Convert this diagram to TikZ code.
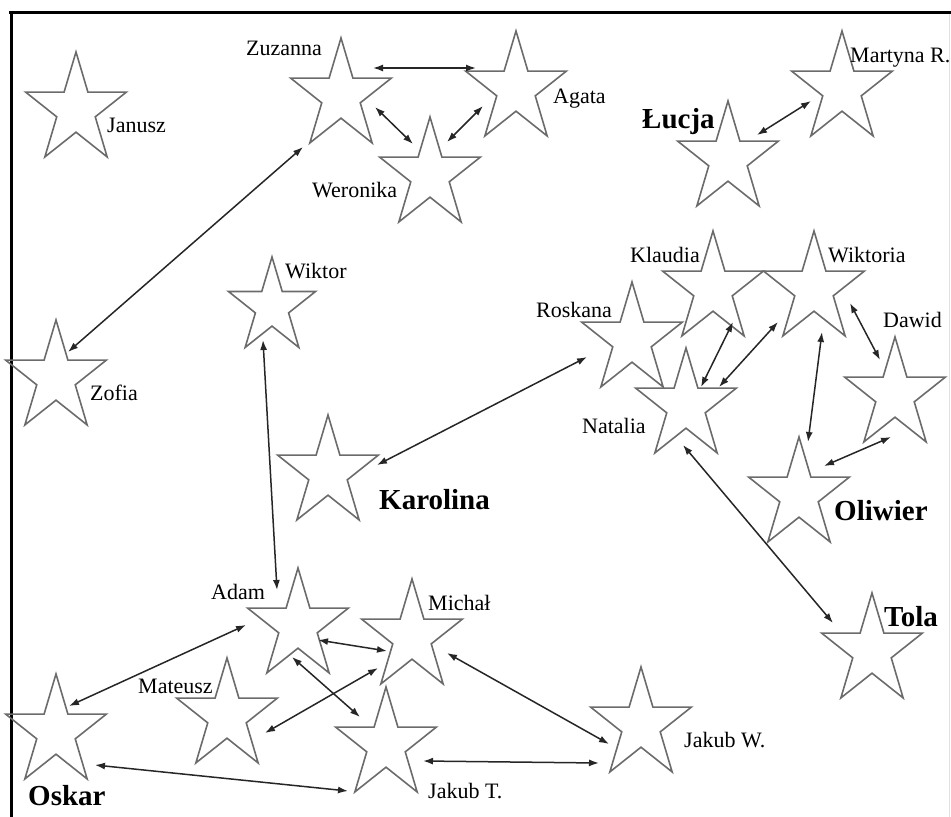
\documentclass[tikz,border=0pt]{standalone}
\usepackage{fontspec}
\setmainfont{Liberation Serif}
\usetikzlibrary{shapes.geometric,arrows.meta}
\tikzset{
  starbox/.style={star, star points=5, star point ratio=2.618, draw=black!58, line width=1.6pt,
    inner sep=0pt, outer sep=0pt, minimum size=106pt, yscale=1.095},
  smallstar/.style={starbox, minimum size=91.4pt},
  lbl/.style={anchor=base west, inner sep=0pt, font=\fontsize{22}{24}\selectfont},
  blbl/.style={anchor=base west, inner sep=0pt, font=\fontsize{29}{31}\selectfont\bfseries},
  link/.style={{Latex[length=10pt,width=7pt]}-{Latex[length=10pt,width=7pt]}, line width=1.5pt, black!85},
}
\begin{document}
\begin{tikzpicture}[x=1pt,y=-1pt]
\useasboundingbox (0,0) rectangle (951,817);
% frame
\draw[line width=3pt] (9,12) -- (951,12);
\draw[line width=3pt] (11,10.5) -- (11,817);
\draw[black!12, line width=1pt] (949,14) -- (949,817);
% stars
\node[starbox] (jan) at (76,110) {};
\node[starbox] (zuz) at (341,96) {};
\node[starbox] (aga) at (516,89) {};
\node[starbox] (wer) at (430,175) {};
\node[starbox] (luc) at (728,159) {};
\node[starbox] (mar) at (842,89) {};
\node[smallstar] (wkt) at (272,307) {};
\node[starbox] (zof) at (56,378) {};
\node[starbox] (kar) at (328,473) {};
\node[starbox] (kla) at (713,289) {};
\node[starbox] (wik) at (814,289) {};
\node[starbox] (ros) at (632,340) {};
\node[starbox] (nat) at (686,406) {};
\node[starbox] (daw) at (895,395) {};
\node[starbox] (oli) at (799,495) {};
\node[starbox] (ada) at (298,626) {};
\node[starbox] (mic) at (412,637) {};
\node[starbox] (mat) at (227,716) {};
\node[starbox] (osk) at (56,732) {};
\node[starbox] (jkt) at (386,745) {};
\node[starbox] (jkw) at (641,725) {};
\node[starbox] (tol) at (872,651) {};
% labels
\node[lbl] (ljan) at (107,132) {Janusz};
\node[lbl] (lzuz) at (246,55) {Zuzanna};
\node[lbl] (laga) at (553,103) {Agata};
\node[lbl] (lwer) at (312,197) {Weronika};
\node[blbl] (lluc) at (642,128) {Łucja};
\node[lbl] (lmar) at (850,62) {Martyna R.};
\node[lbl] (lwkt) at (285,278) {Wiktor};
\node[lbl] (lzof) at (90,400) {Zofia};
\node[blbl] (lkar) at (379,509) {Karolina};
\node[lbl] (lkla) at (630,262) {Klaudia};
\node[lbl] (lwik) at (828,262) {Wiktoria};
\node[lbl] (lros) at (536,317) {Roskana};
\node[lbl] (lnat) at (582,433) {Natalia};
\node[lbl] (ldaw) at (883,327) {Dawid};
\node[blbl] (loli) at (834,520) {Oliwier};
\node[lbl] (lada) at (211,599) {Adam};
\node[lbl] (lmic) at (428,610) {Michał};
\node[lbl] (lmat) at (138,693) {Mateusz};
\node[blbl] (losk) at (28,805) {Oskar};
\node[lbl] (ljkt) at (428,798) {Jakub T.};
\node[lbl] (ljkw) at (684,747) {Jakub W.};
\node[blbl] (ltol) at (884,626) {Tola};
% connectors
\draw[link] ([shift={(32,-28)}]zuz.center) -- ([shift={(-40,-21)}]aga.center);
\draw[link] ([shift={(34,11)}]zuz.center) -- ([shift={(-17,-31)}]wer.center);
\draw[link] ([shift={(17,-33)}]wer.center) -- ([shift={(-33,17)}]aga.center);
\draw[link] ([shift={(12,-26)}]zof.center) -- ([shift={(-38,51)}]zuz.center);
\draw[link] ([shift={(29,-24)}]luc.center) -- ([shift={(-31,12)}]mar.center);
\draw[link] ([shift={(-9,33)}]wkt.center) -- ([shift={(-21,-36)}]ada.center);
\draw[link] ([shift={(49,-8)}]kar.center) -- ([shift={(-45,17)}]ros.center);
\draw[link] ([shift={(15,-19)}]nat.center) -- ([shift={(20,33)}]kla.center);
\draw[link] ([shift={(33,-19)}]nat.center) -- ([shift={(-36,33)}]wik.center);
\draw[link] ([shift={(8,43)}]wik.center) -- ([shift={(9,-53)}]oli.center);
\draw[link] ([shift={(36,14)}]wik.center) -- ([shift={(-15,-35)}]daw.center);
\draw[link] ([shift={(-4,42)}]daw.center) -- ([shift={(25,-29)}]oli.center);
\draw[link] ([shift={(-3,39)}]nat.center) -- ([shift={(-39,-28)}]tol.center);
\draw[link] ([shift={(13,-26)}]osk.center) -- ([shift={(-52,-1)}]ada.center);
\draw[link] ([shift={(20,14)}]ada.center) -- ([shift={(-25,14)}]mic.center);
\draw[link] ([shift={(-6,31)}]ada.center) -- ([shift={(-26,-28)}]jkt.center);
\draw[link] ([shift={(38,17)}]mat.center) -- ([shift={(-34,31)}]mic.center);
\draw[link] ([shift={(35,16)}]mic.center) -- ([shift={(-32,19)}]jkw.center);
\draw[link] ([shift={(39,33)}]osk.center) -- ([shift={(-38,46)}]jkt.center);
\draw[link] ([shift={(37,16)}]jkt.center) -- ([shift={(-42,38)}]jkw.center);
\end{tikzpicture}
\end{document}
